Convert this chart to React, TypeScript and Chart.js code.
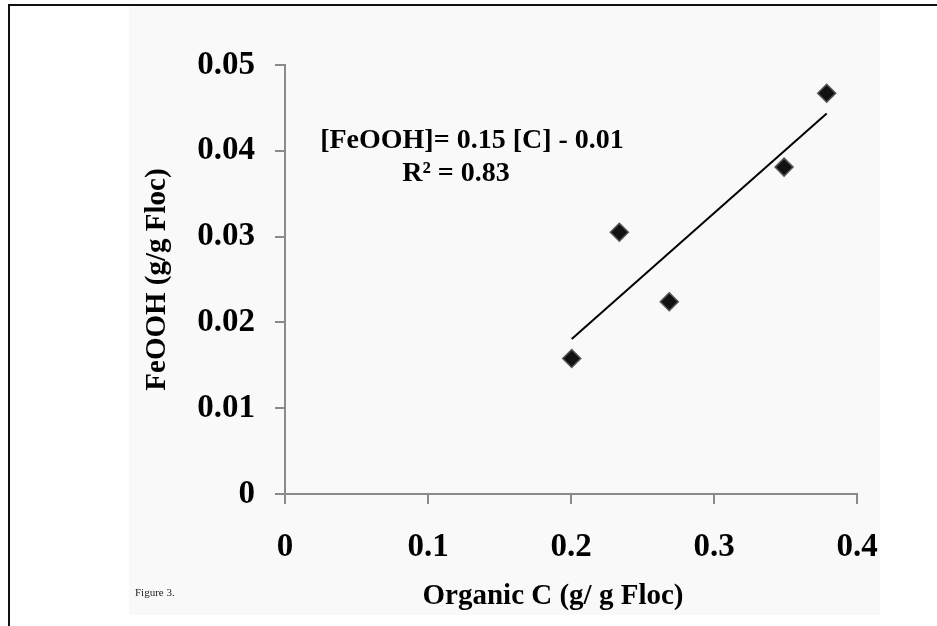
import React, { useEffect, useRef } from "react";
import { Chart, registerables } from "chart.js";

Chart.register(...registerables);

// ---- data ----
const organicC = [0.2005, 0.2338, 0.2687, 0.349, 0.3788];
const feooh = [0.0158, 0.0305, 0.0224, 0.0381, 0.0467];
const xTickValues = [0, 0.1, 0.2, 0.3, 0.4];
const xTickLabels = ["0", "0.1", "0.2", "0.3", "0.4"];
const yTickValues = [0, 0.01, 0.02, 0.03, 0.04, 0.05];
const yTickLabels = ["0", "0.01", "0.02", "0.03", "0.04", "0.05"];
const xAxisTitle = "Organic C (g/ g Floc)";
const yAxisTitle = "FeOOH (g/g Floc)";
const equationText = "[FeOOH]= 0.15 [C] - 0.01";
const r2Text = "R² = 0.83";
const figureLabel = "Figure 3.";

// least-squares trend line from the data
function trend(xs: number[], ys: number[]) {
  const n = xs.length;
  const mx = xs.reduce((a, b) => a + b, 0) / n;
  const my = ys.reduce((a, b) => a + b, 0) / n;
  let sxy = 0, sxx = 0;
  for (let i = 0; i < n; i++) {
    sxy += (xs[i] - mx) * (ys[i] - my);
    sxx += (xs[i] - mx) * (xs[i] - mx);
  }
  const m = sxy / sxx;
  const b = my - m * mx;
  const x0 = Math.min(...xs);
  const x1 = Math.max(...xs);
  return [
    { x: x0, y: m * x0 + b },
    { x: x1, y: m * x1 + b },
  ];
}

const FONT = "'Liberation Serif', 'Times New Roman', serif";
const AXIS_GRAY = "#8a8a8a";

const decorPlugin = {
  id: "decor",
  beforeDraw(chart: any) {
    const ctx = chart.ctx;
    ctx.save();
    ctx.fillStyle = "#ffffff";
    ctx.fillRect(0, 0, chart.width, chart.height);
    ctx.fillStyle = "#f9f9f9";
    ctx.fillRect(129, 6, 751, 609);
    ctx.fillStyle = "#111111";
    ctx.fillRect(8, 4, chart.width - 8, 2);
    ctx.fillRect(8, 4, 2, chart.height - 4);
    ctx.restore();
  },
  afterDraw(chart: any) {
    const ctx = chart.ctx;
    const a = chart.chartArea;
    ctx.save();
    ctx.fillStyle = "#000";
    ctx.textAlign = "center";
    ctx.textBaseline = "alphabetic";
    ctx.font = `bold 28px ${FONT}`;
    ctx.fillText(equationText, a.left + 187, a.top + 83);
    ctx.fillText(r2Text, a.left + 171, a.top + 116);
    ctx.font = `bold 29px ${FONT}`;
    ctx.textBaseline = "middle";
    ctx.fillText(xAxisTitle, a.left + 268, a.bottom + 103);
    ctx.font = `11px ${FONT}`;
    ctx.textAlign = "left";
    ctx.textBaseline = "alphabetic";
    ctx.fillStyle = "#222";
    ctx.fillText(figureLabel, a.left - 150, a.bottom + 102);
    ctx.restore();
  },
};

export default function App() {
  const ref = useRef<HTMLCanvasElement | null>(null);

  useEffect(() => {
    if (!ref.current) return;
    const points = organicC.map((x, i) => ({ x, y: feooh[i] }));
    const chart = new Chart(ref.current, {
      type: "scatter",
      data: {
        datasets: [
          {
            type: "line",
            label: "trend",
            data: trend(organicC, feooh),
            borderColor: "#000",
            borderWidth: 2,
            pointRadius: 0,
            fill: false,
            showLine: true,
          } as any,
          {
            label: "FeOOH",
            data: points,
            pointStyle: "rectRot",
            pointRadius: 9,
            pointHoverRadius: 9,
            backgroundColor: "#111",
            borderColor: "#555",
            borderWidth: 1.5,
          },
        ],
      },
      options: {
        responsive: false,
        animation: false,
        events: [],
        layout: { padding: { left: 0, top: 65, right: 80, bottom: 0 } },
        plugins: {
          legend: { display: false },
          tooltip: { enabled: false },
        },
        scales: {
          x: {
            type: "linear",
            min: 0,
            max: 0.4,
            afterBuildTicks: (s: any) => {
              s.ticks = xTickValues.map((v) => ({ value: v }));
            },
            afterFit: (s: any) => {
              s.height = 132;
            },
            ticks: {
              callback: (_v: any, i: number) => xTickLabels[i],
              font: { family: FONT, size: 33, weight: "bold" },
              color: "#000",
              padding: 24,
              maxRotation: 0,
            },
            grid: {
              display: true,
              drawOnChartArea: false,
              drawTicks: true,
              tickLength: 10,
              color: AXIS_GRAY,
              lineWidth: 2,
            },
            border: { display: true, color: AXIS_GRAY, width: 2 },
          },
          y: {
            type: "linear",
            min: 0,
            max: 0.05,
            afterBuildTicks: (s: any) => {
              s.ticks = yTickValues.map((v) => ({ value: v }));
            },
            afterFit: (s: any) => {
              s.width = 285;
            },
            ticks: {
              callback: (_v: any, i: number) => yTickLabels[i],
              font: { family: FONT, size: 33, weight: "bold" },
              color: "#000",
              padding: 20,
            },
            grid: {
              display: true,
              drawOnChartArea: false,
              drawTicks: true,
              tickLength: 10,
              color: AXIS_GRAY,
              lineWidth: 2,
            },
            border: { display: true, color: AXIS_GRAY, width: 2 },
            title: {
              display: true,
              text: yAxisTitle,
              font: { family: FONT, size: 29, weight: "bold" },
              color: "#000",
              padding: { top: 140, bottom: 0 },
            },
          },
        },
      },
      plugins: [decorPlugin],
    });
    return () => chart.destroy();
  }, []);

  return (
    <div style={{ position: "fixed", left: 0, top: 0, width: 937, height: 626, background: "#fff" }}>
      <canvas ref={ref} width={937} height={626} style={{ display: "block", width: 937, height: 626 }} />
    </div>
  );
}
